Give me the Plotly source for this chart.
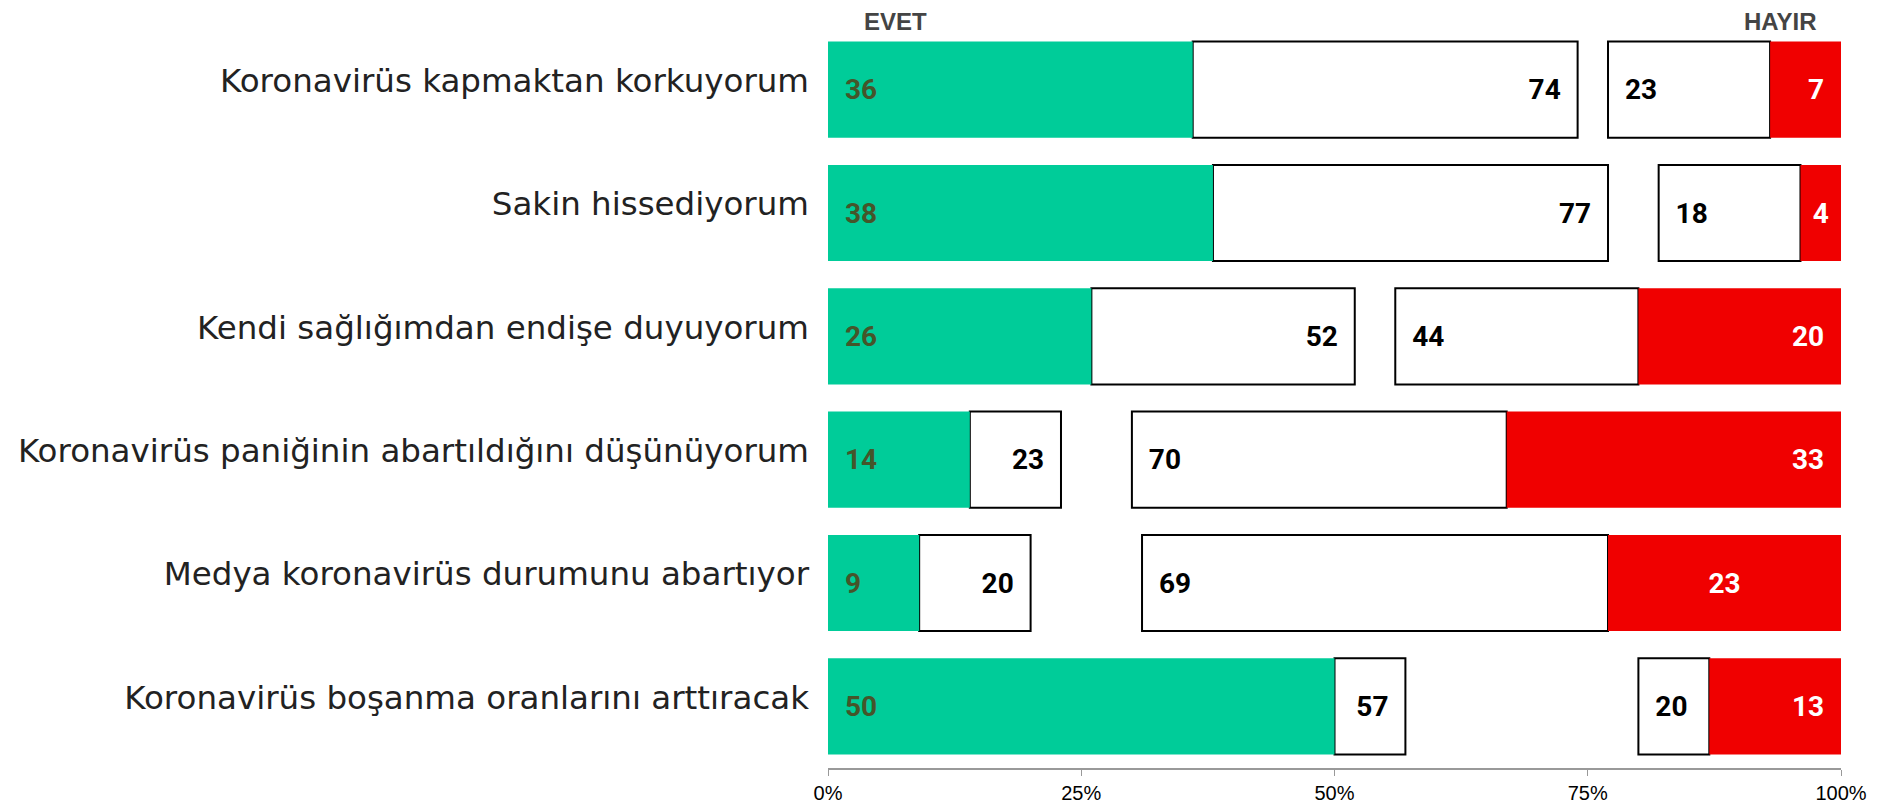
import plotly.graph_objects as go

categories = [
    "Koronavirüs kapmaktan korkuyorum",
    "Sakin hissediyorum",
    "Kendi sağlığımdan endişe duyuyorum",
    "Koronavirüs paniğinin abartıldığını düşünüyorum",
    "Medya koronavirüs durumunu abartıyor",
    "Koronavirüs boşanma oranlarını arttıracak",
]
evet_strong = [36, 38, 26, 14, 9, 50]
evet_total = [74, 77, 52, 23, 20, 57]
hayir_total = [23, 18, 44, 70, 69, 20]
hayir_strong = [7, 4, 20, 33, 23, 13]
red_anchor = ["end", "middle", "end", "end", "middle", "end"]
tick_vals = [0, 25, 50, 75, 100]
tick_text = ["0%", "25%", "50%", "75%", "100%"]

GREEN = "#00CC99"
RED = "#F00000"
NB = "\u00a0"
PAD = NB * 2
LABEL_FONT = dict(size=28, family="Roboto", weight="bold")

fig = go.Figure()

# white "evet" remainder
fig.add_trace(go.Bar(
    y=categories,
    x=[t - s for t, s in zip(evet_total, evet_strong)],
    base=evet_strong,
    orientation="h",
    marker=dict(color="white", line=dict(color="black", width=2)),
    text=[f"{t}{PAD}" for t in evet_total],
    textposition="inside",
    insidetextanchor="end",
    textangle=0,
    textfont=dict(color="black", **LABEL_FONT),
    width=0.78,
    hoverinfo="skip",
))

# white "hayir" remainder
fig.add_trace(go.Bar(
    y=categories,
    x=[t - s for t, s in zip(hayir_total, hayir_strong)],
    base=[100 - t for t in hayir_total],
    orientation="h",
    marker=dict(color="white", line=dict(color="black", width=2)),
    text=[f"{PAD}{t}" for t in hayir_total],
    textposition="inside",
    insidetextanchor="start",
    textangle=0,
    textfont=dict(color="black", **LABEL_FONT),
    width=0.78,
    hoverinfo="skip",
))

# green strong evet
fig.add_trace(go.Bar(
    y=categories,
    x=evet_strong,
    base=[0] * len(categories),
    orientation="h",
    marker=dict(color=GREEN, line=dict(width=0)),
    text=[f"{PAD}{v}" for v in evet_strong],
    textposition="inside",
    insidetextanchor="start",
    textangle=0,
    textfont=dict(color="#45552A", **LABEL_FONT),
    width=0.78,
    hoverinfo="skip",
))

# red strong hayir, grouped by label anchor
for anchor in ["end", "middle"]:
    idx = [i for i, a in enumerate(red_anchor) if a == anchor]
    if not idx:
        continue
    fig.add_trace(go.Bar(
        y=[categories[i] for i in idx],
        x=[hayir_strong[i] for i in idx],
        base=[100 - hayir_strong[i] for i in idx],
        orientation="h",
        marker=dict(color=RED, line=dict(width=0)),
        text=[f"{hayir_strong[i]}{PAD}" if anchor == "end" else f"{hayir_strong[i]}" for i in idx],
        textposition="inside",
        insidetextanchor=anchor,
        textangle=0,
        textfont=dict(color="white", **LABEL_FONT),
        width=0.78,
        hoverinfo="skip",
    ))

fig.update_layout(
    barmode="overlay",
    width=1883,
    height=808,
    margin=dict(l=820, r=50, t=20, b=48),
    paper_bgcolor="white",
    plot_bgcolor="white",
    showlegend=False,
    uniformtext=dict(minsize=28, mode="show"),
    font=dict(family="DejaVu Sans", color="#1a1a1a"),
    xaxis=dict(
        range=[0, 100],
        tickvals=tick_vals,
        ticktext=tick_text,
        showgrid=False,
        zeroline=False,
        showline=True,
        linecolor="#999999",
        linewidth=1.5,
        ticks="outside",
        ticklen=6,
        tickcolor="#999999",
        tickfont=dict(family="Liberation Sans Narrow, Liberation Sans", size=20, color="black"),
        fixedrange=True,
        automargin=False,
    ),
    yaxis=dict(
        categoryorder="array",
        categoryarray=categories,
        range=[5.5, -0.5],
        showgrid=False,
        zeroline=False,
        showline=False,
        ticks="",
        ticklabelstandoff=18,
        ticklabelshift=9,
        tickfont=dict(family="DejaVu Sans", size=32.5, color="#222222"),
        fixedrange=True,
        automargin=False,
    ),
    annotations=[
        dict(text="<b>EVET</b>", x=6.7, y=1, xref="x", yref="paper", yanchor="middle",
             yshift=7, showarrow=False,
             font=dict(family="Liberation Sans Narrow, Liberation Sans", size=24, color="#444444")),
        dict(text="<b>HAYIR</b>", x=94, y=1, xref="x", yref="paper", yanchor="middle",
             yshift=7, showarrow=False,
             font=dict(family="Liberation Sans Narrow, Liberation Sans", size=24, color="#444444")),
    ],
)

fig.write_html("out.html")
